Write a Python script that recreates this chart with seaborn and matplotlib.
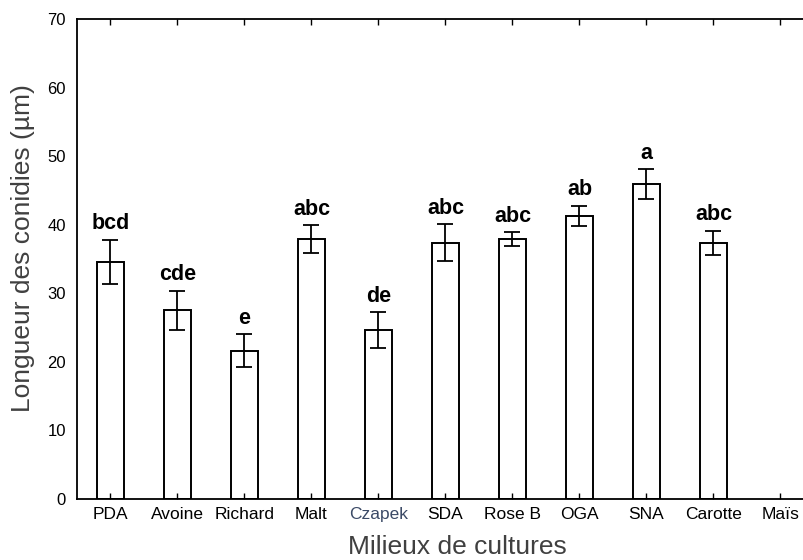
import numpy as np
import pandas as pd
import matplotlib
matplotlib.use("Agg")
import matplotlib.pyplot as plt
import seaborn as sns

# values
milieux = ["PDA", "Avoine", "Richard", "Malt", "Czapek", "SDA",
           "Rose B", "OGA", "SNA", "Carotte", "Maïs"]
longueur = [34.6, 27.5, 21.6, 37.9, 24.6, 37.4, 37.9, 41.3, 45.9, 37.4, np.nan]
erreur = [3.2, 2.9, 2.4, 2.0, 2.65, 2.7, 1.0, 1.5, 2.2, 1.75, np.nan]
lettres = ["bcd", "cde", "e", "abc", "de", "abc", "abc", "ab", "a", "abc", ""]

df = pd.DataFrame({"milieu": milieux, "longueur": longueur})

sns.set_theme(style="white")
plt.rcParams["font.family"] = ["Liberation Sans", "DejaVu Sans"]

fig = plt.figure(figsize=(8.04, 5.6), dpi=100)
# axes runs past the right edge, like the cropped original
ax = fig.add_axes([77 / 804, 61 / 560, 737 / 804, 480 / 560])

sns.barplot(data=df, x="milieu", y="longueur", order=milieux,
            fill=False, color="black", linewidth=1.4, width=0.41,
            errorbar=None, ax=ax)

pos = np.arange(len(milieux))
ax.errorbar(pos, longueur, yerr=erreur, fmt="none", ecolor="black",
            elinewidth=1.3, capsize=5.5, capthick=1.3)

for x, m, e, txt in zip(pos, longueur, erreur, lettres):
    if txt:
        ax.text(x, m + e + 0.8, txt, ha="center", va="bottom",
                fontsize=15.5, fontweight="bold", color="black")

ax.set_xlim(-0.5, len(milieux) - 0.5)
ax.set_ylim(0, 70)
ax.set_yticks(range(0, 71, 10))

for side in ["left", "top", "bottom", "right"]:
    ax.spines[side].set_color("black")
    ax.spines[side].set_linewidth(1.3)

ax.tick_params(axis="x", direction="in", top=True, bottom=True,
               length=4, width=1, color="black", labelsize=12.5, pad=6,
               labelcolor="black")
ax.tick_params(axis="y", length=0, labelsize=12, pad=8, labelcolor="black")
ax.get_xticklabels()[milieux.index("Czapek")].set_color("#3b4a66")

ax.set_xlabel("Milieux de cultures", fontsize=19, color="#404040", labelpad=9)
ax.set_ylabel("Longueur des conidies (µm)", fontsize=19, color="#404040",
              labelpad=9)
# labels sit a little off-centre in the original
ax.xaxis.label.set_x(0.516)
ax.yaxis.label.set_y(0.523)

fig.savefig("out.png", dpi=100)
